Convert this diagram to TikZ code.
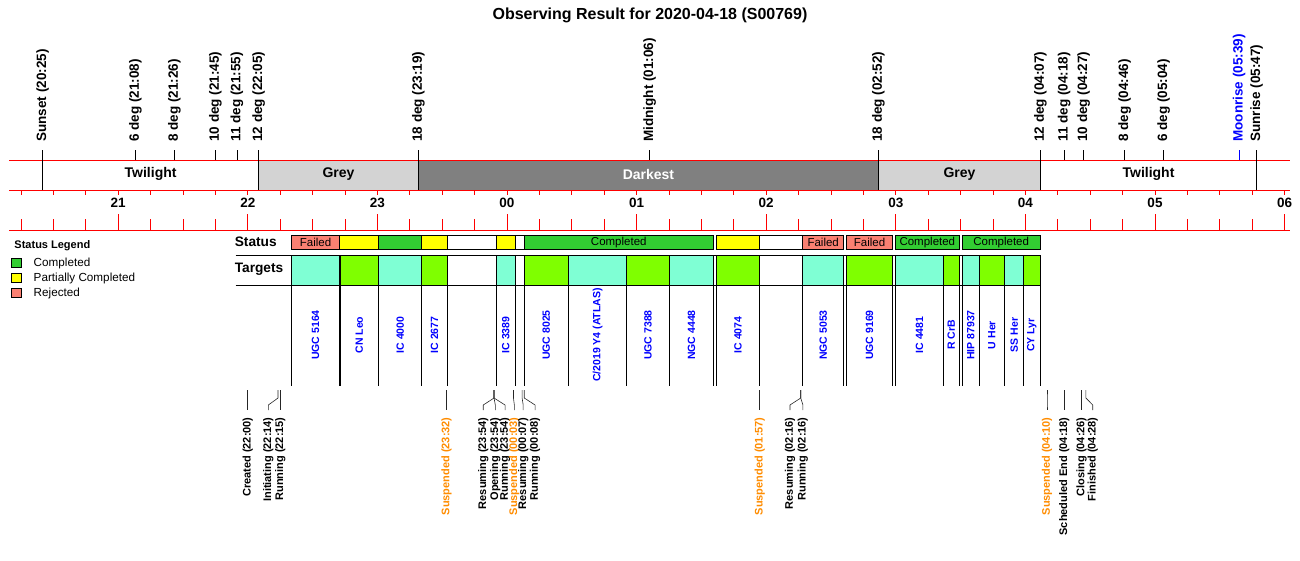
\documentclass[tikz,border=0pt]{standalone}
\usepackage{fontspec}
\setmainfont{Liberation Sans}
\usepackage{xcolor}
\usepackage{tikz}

\definecolor{statgreen}{RGB}{50,205,50}
\definecolor{statyellow}{RGB}{255,255,0}
\definecolor{statred}{RGB}{250,128,114}
\definecolor{tgtaqua}{RGB}{127,255,212}
\definecolor{tgtlime}{RGB}{127,255,0}
\definecolor{greyband}{RGB}{211,211,211}
\definecolor{darkband}{RGB}{128,128,128}
\definecolor{suspcol}{RGB}{255,140,0}

\newcommand{\fs}[1]{\fontsize{#1}{#1}\selectfont}

\begin{document}
\begin{tikzpicture}[x=2.16pt, y=-1pt, line width=0.8pt,
    toplabel/.style={rotate=90, anchor=west, inner sep=0pt, font=\fs{13.5}\bfseries},
    evlabel/.style={rotate=90, anchor=east, inner sep=0pt, font=\fs{11}\bfseries},
    tgtlabel/.style={rotate=90, inner sep=0pt, text=blue, font=\fs{10.5}\bfseries},
    bandlabel/.style={inner sep=0pt, font=\fs{14}\bfseries},
    rowlabel/.style={anchor=west, inner sep=0pt, font=\fs{13.7}\bfseries},
    leglabel/.style={anchor=west, inner sep=0pt, font=\fs{11.7}}]
    % x is minutes from midnight, y is pixels down
    \useasboundingbox (-234.72,0) rectangle (367.13,560);

    % Draw title
    \node[font=\fs{16}\bfseries] (title) at (66.2,15) {Observing Result for 2020-04-18 (S00769)};

    % Draw twilight bands
    \foreach \a/\b/\col/\txt/\tcol [count=\i] in {-215/-115/white/Twilight/black,
        -115/-41/greyband/Grey/black, -41/172/darkband/Darkest/white,
        172/247/greyband/Grey/black, 247/347/white/Twilight/black}
    {
      \fill[\col] (\a,160) rectangle (\b,190);
      \node[bandlabel, text=\tcol] (band\i) at ({(\a+\b)/2},174) {\txt};
    }
    \draw[red] (-230.5,160) -- (362.5,160);
    \draw[red] (-230.5,190) -- (362.5,190);
    \draw[red] (-230.5,230) -- (362.5,230);
    \foreach \m in {-215,-115,-41,172,247,347}
      \draw (\m,150) -- (\m,190);

    % Draw sun and moon events
    \foreach \m/\lab/\col [count=\i] in {-215/Sunset (20:25)/black, -172/6 deg (21:08)/black,
        -154/8 deg (21:26)/black, -135/10 deg (21:45)/black, -125/11 deg (21:55)/black,
        -115/12 deg (22:05)/black, -41/18 deg (23:19)/black, 66/Midnight (01:06)/black,
        172/18 deg (02:52)/black, 247/12 deg (04:07)/black, 258/11 deg (04:18)/black,
        267/10 deg (04:27)/black, 286/8 deg (04:46)/black, 304/6 deg (05:04)/black,
        339/Moonrise (05:39)/blue, 347/Sunrise (05:47)/black}
    {
      \draw[\col] (\m,150) -- (\m,160);
      \node[toplabel, text=\col] (sky\i) at (\m,142) {\lab};
    }

    % Draw time axis
    \foreach \m in {-225,-210,...,360}
    {
      \draw[red] (\m,190) -- (\m,195);
      \draw[red] (\m,219) -- (\m,230);
    }
    \foreach \m/\lab [count=\i] in {-180/21, -120/22, -60/23, 0/00, 60/01,
        120/02, 180/03, 240/04, 300/05, 360/06}
    {
      \draw[red] (\m,214) -- (\m,230);
      \node[font=\fs{13.5}\bfseries] (hour\i) at (\m,203) {\lab};
    }

    % Draw legend
    \node[anchor=west, inner sep=0pt, font=\fs{11}\bfseries] (legtitle) at (-228.2,246) {Status Legend};
    \foreach \col/\txt/\y [count=\i] in {statgreen/Completed/258, statyellow/Partially Completed/273.3,
        statred/Rejected/288.3}
    {
      \filldraw[fill=\col, draw=black] (-229.5,\y) rectangle (-224.9,\y+9.5);
      \node[leglabel] (leg\i) at (-219.3,\y+5) {\txt};
    }

    % Draw status row
    \node[rowlabel] (statushead) at (-126.2,242) {Status};
    \foreach \a/\b/\col/\txt [count=\i] in {-99.7/-77.6/statred/Failed, -77.6/-59.5/statyellow/,
        -59.5/-39.4/statgreen/, -39.4/-27.8/statyellow/, -27.8/-4.95/white/,
        -4.95/3.7/statyellow/, 3.7/7.9/white/, 7.9/95.6/statgreen/Completed,
        96.9/116.9/statyellow/, 116.9/136.9/white/, 136.9/155.9/statred/Failed,
        157.1/178.6/statred/Failed, 179.9/209.3/statgreen/Completed,
        210.8/246.8/statgreen/Completed}
    {
      \filldraw[fill=\col, draw=black] (\a,235.5) rectangle (\b,249.5);
      \node[inner sep=0pt, font=\fs{11.5}] (stat\i) at ({(\a+\b)/2},242.5) {\txt};
    }

    % Draw targets
    \node[rowlabel] (targethead) at (-126.2,269) {Targets};
    \foreach \a/\b/\col/\name [count=\i] in {-99.7/-77.6/tgtaqua/UGC 5164,
        -77.2/-59.5/tgtlime/CN Leo, -59.5/-39.4/tgtaqua/IC 4000,
        -39.4/-27.8/tgtlime/IC 2677, -4.95/3.7/tgtaqua/IC 3389,
        7.9/28.5/tgtlime/UGC 8025, 28.5/55.4/tgtaqua/{C/2019 Y4 (ATLAS)},
        55.4/75.2/tgtlime/UGC 7388, 75.2/95.6/tgtaqua/NGC 4448,
        96.9/116.9/tgtlime/IC 4074, 136.9/155.9/tgtaqua/NGC 5053,
        157.1/178.6/tgtlime/UGC 9169, 179.9/202.0/tgtaqua/IC 4481,
        202.0/209.3/tgtlime/R CrB, 210.8/218.5/tgtaqua/HIP 87937,
        218.5/230.5/tgtlime/U Her, 230.5/239.1/tgtaqua/SS Her,
        239.1/246.8/tgtlime/CY Lyr}
    {
      \fill[\col] (\a,255) rectangle (\b,285);
      \draw (\a,255) -- (\a,386);
      \draw (\b,255) -- (\b,386);
      \node[tgtlabel] (tgt\i) at ({(\a+\b)/2},335) {\name};
    }
    \draw (-125.6,255) -- (246.8,255);
    \draw (-125.6,285) -- (246.8,285);

    % Draw run events
    \foreach \tx/\lx/\lab/\col [count=\i] in {-120/-120/Created (22:00)/black,
        -106/-110.5/Initiating (22:14)/black, -105/-105/Running (22:15)/black,
        -28/-28/Suspended (23:32)/suspcol, -6/-11/Resuming (23:54)/black,
        -6/-5.4/Opening (23:54)/black, -6/-0.9/Running (23:54)/black,
        3/3.4/Suspended (00:03)/suspcol, 7/7.5/Resuming (00:07)/black,
        8/13/Running (00:08)/black, 117/117/Suspended (01:57)/suspcol,
        136/131/Resuming (02:16)/black, 136/137/Running (02:16)/black,
        250/250/Suspended (04:10)/suspcol, 258/258/Scheduled End (04:18)/black,
        266/266/Closing (04:26)/black, 268/271.2/Finished (04:28)/black}
    {
      \coordinate (ev\i) at (\tx,390);
      \node[evlabel, text=\col] (run\i) at (\lx,417) {\lab};
      \draw[line width=0.6pt, black!85] (ev\i) -- ++(0,8) -- ([yshift=12pt]run\i.east) -- ([yshift=7pt]run\i.east);
    }
\end{tikzpicture}
\end{document}
